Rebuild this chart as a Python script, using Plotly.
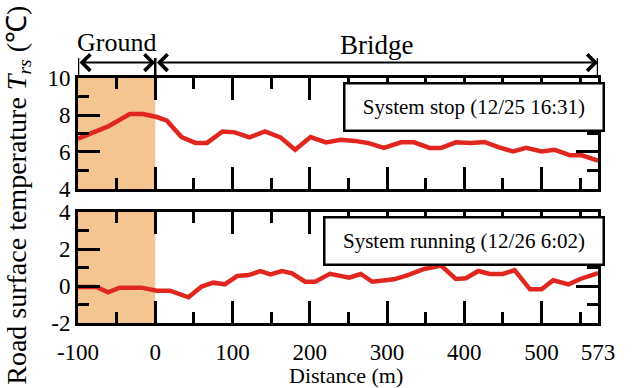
import plotly.graph_objects as go

# ---- data ----
dist_stop = [-100, -61, -33, -16, 2, 15, 34, 52, 67, 87, 103, 122, 142, 162, 181, 201, 221, 240, 258,
             275, 296, 318, 335, 355, 370, 389, 409, 426, 444, 463, 480, 500, 517, 537, 552, 573]
temp_stop = [6.72, 7.38, 8.05, 8.05, 7.89, 7.69, 6.81, 6.49, 6.49, 7.11, 7.06, 6.79, 7.11, 6.79, 6.12,
             6.81, 6.52, 6.66, 6.60, 6.49, 6.22, 6.52, 6.52, 6.22, 6.22, 6.52, 6.49, 6.54, 6.26, 6.03,
             6.22, 6.03, 6.12, 5.82, 5.82, 5.53]

dist_run = [-100, -76, -61, -46, -18, 2, 19, 43, 60, 75, 90, 106, 121, 136, 149, 164, 177, 194, 207,
            226, 251, 266, 281, 309, 327, 348, 370, 389, 402, 418, 433, 450, 465, 485, 500, 515, 535,
            550, 573]
temp_run = [-0.05, -0.05, -0.34, -0.09, -0.09, -0.25, -0.25, -0.61, -0.03, 0.18, 0.09, 0.54, 0.59,
            0.81, 0.63, 0.81, 0.69, 0.23, 0.23, 0.66, 0.45, 0.65, 0.23, 0.36, 0.59, 0.92, 1.1, 0.38,
            0.42, 0.81, 0.65, 0.65, 0.86, -0.18, -0.18, 0.31, 0.09, 0.38, 0.7]

x_tickvals = [-100, 0, 100, 200, 300, 400, 500, 573]
x_ticktext = ["-100", "0", "100", "200", "300", "400", "500", "573"]
y1_tickvals = [4, 6, 8, 10]
y1_ticktext = ["4", "6", "8", "10"]
y2_tickvals = [-2, 0, 2, 4]
y2_ticktext = ["-2", "0", "2", "4"]

ground_range = [-100, 0]
bridge_range = [0, 573]
labels_panel = ["System stop (12/25 16:31)", "System running (12/26 6:02)"]

FONT = "Liberation Serif, Times New Roman, serif"
RED = "#E0261F"
PEACH = "#F5C591"

fig = go.Figure()
fig.add_trace(go.Scatter(x=dist_stop, y=temp_stop, mode="lines",
                         line=dict(color=RED, width=4.5), xaxis="x", yaxis="y", showlegend=False))
fig.add_trace(go.Scatter(x=dist_run, y=temp_run, mode="lines",
                         line=dict(color=RED, width=4.5), xaxis="x2", yaxis="y2", showlegend=False))

axis_common = dict(showline=True, linewidth=3, linecolor="black", mirror="ticks",
                   ticks="inside", ticklen=22, tickwidth=3, tickcolor="black",
                   showgrid=False, zeroline=False, automargin=False,
                   tickfont=dict(family=FONT, size=23, color="black"))

xcommon = dict(axis_common, range=[-100, 573], tickmode="array", tickvals=x_tickvals,
               ticktext=x_ticktext,
               minor=dict(ticks="inside", ticklen=11, tickwidth=3, tickcolor="black",
                          tick0=0, dtick=50, showgrid=False))

fig.update_layout(
    width=632, height=388,
    margin=dict(l=78, r=34, t=78, b=65),
    plot_bgcolor="white", paper_bgcolor="white",
    xaxis=dict(xcommon, anchor="y", showticklabels=False),
    yaxis=dict(axis_common, domain=[0.547, 1], range=[4, 10], tickmode="array",
               tickvals=y1_tickvals, ticktext=y1_ticktext, ticklabelstandoff=0,
               minor=dict(ticks="inside", ticklen=11, tickwidth=3, tickcolor="black",
                          tick0=0, dtick=1, showgrid=False)),
    xaxis2=dict(xcommon, anchor="y2", ticklabelstandoff=6),
    yaxis2=dict(axis_common, domain=[0, 0.453], range=[-2, 4], tickmode="array",
                tickvals=y2_tickvals, ticktext=y2_ticktext, ticklabelstandoff=0,
                minor=dict(ticks="inside", ticklen=11, tickwidth=3, tickcolor="black",
                           tick0=0, dtick=1, showgrid=False)),
)

# shaded ground region
for xr, yr in (("x", "y"), ("x2", "y2")):
    fig.add_shape(type="rect", xref=xr, yref=yr + " domain", x0=ground_range[0], x1=ground_range[1],
                  y0=0, y1=1, fillcolor=PEACH, line=dict(width=0), layer="below")

# vertical bars of the dimension arrows
for xv in (ground_range[0], ground_range[1], bridge_range[1]):
    fig.add_shape(type="line", xref="x", yref="paper", x0=xv, x1=xv, y0=1.012, y1=1.082,
                  line=dict(color="black", width=2.5))

# dimension arrows
for a, b in (ground_range, bridge_range):
    fig.add_annotation(x=b, y=1.063, xref="x", yref="paper", ax=a, ay=0, axref="x", ayref="pixel",
                       text="", showarrow=True, arrowhead=4, startarrowhead=4, arrowside="end+start",
                       arrowsize=1.6, startarrowsize=1.6, arrowwidth=2, arrowcolor="black",
                       standoff=0, startstandoff=0)

fig.add_annotation(x=sum(ground_range) / 2, y=1.143, xref="x", yref="paper", text="Ground",
                   xanchor="center", yanchor="middle",
                   showarrow=False, font=dict(family=FONT, size=26, color="black"))
fig.add_annotation(x=sum(bridge_range) / 2, y=1.135, xref="x", yref="paper", text="Bridge",
                   xanchor="center", yanchor="middle",
                   showarrow=False, font=dict(family=FONT, size=27, color="black"))

# panel labels
fig.add_annotation(x=0.7607, y=0.883, xref="paper", yref="paper", text=labels_panel[0],
                   xanchor="center", yanchor="middle",
                   showarrow=False, font=dict(family=FONT, size=21, color="black"),
                   bgcolor="white", bordercolor="black", borderwidth=2.5, borderpad=0,
                   width=257, height=45, align="center", valign="middle")
fig.add_annotation(x=0.7416, y=0.3367, xref="paper", yref="paper", text=labels_panel[1],
                   xanchor="center", yanchor="middle",
                   showarrow=False, font=dict(family=FONT, size=21, color="black"),
                   bgcolor="white", bordercolor="black", borderwidth=2.5, borderpad=0,
                   width=277, height=45, align="center", valign="middle")

# axis titles
fig.add_annotation(x=0.5157, y=-0.216, xref="paper", yref="paper", text="Distance (m)",
                   xanchor="center", yanchor="middle",
                   showarrow=False, font=dict(family=FONT, size=22, color="black"))
fig.add_annotation(x=-0.116, y=0.522, xref="paper", yref="paper", textangle=-90,
                   xanchor="center", yanchor="middle",
                   text="Road surface temperature <i>T</i><sub><i>rs</i></sub> (℃)",
                   showarrow=False, font=dict(family=FONT, size=28, color="black"))

fig.write_html("out.html", config={"displayModeBar": False},
               post_script="document.body.style.margin='0px';")
